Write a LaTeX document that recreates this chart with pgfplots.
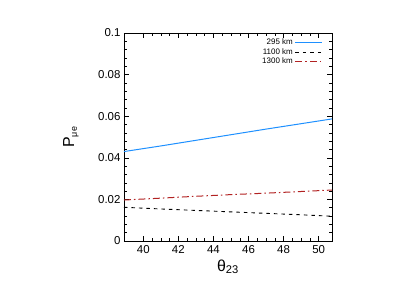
\documentclass[border=0pt]{standalone}
\usepackage{fontspec}
\setmainfont{Liberation Sans}
\usepackage{pgfplots}
\pgfplotsset{compat=1.18}
\definecolor{cblue}{RGB}{30,144,255}
\definecolor{cred}{RGB}{178,34,34}
\begin{document}
\begin{tikzpicture}
\path[use as bounding box] (-124bp,-49bp) rectangle (291bp,241bp);
\begin{axis}[
  at={(0,0)}, anchor=south west,
  width=208bp, height=208bp, scale only axis,
  xmin=38.9, xmax=50.76, ymin=0, ymax=0.1,
  xtick={40,42,44,46,48,50},
  ytick={0,0.02,0.04,0.06,0.08,0.1},
  yticklabels={0,0.02,0.04,0.06,0.08,0.1},
  minor x tick num=3, minor y tick num=4,
  tick align=inside, xtick pos=both, ytick pos=both,
  major tick length=5bp, minor tick length=3bp,
  every tick/.style={black, line width=0.5pt},
  axis line style={line width=0.8pt},
  /pgf/number format/assume math mode=true,
  tick label style={font=\fontsize{11.5}{13}\selectfont},
  xticklabel style={yshift=-1bp},
  scaled y ticks=false,
  xlabel={\fontsize{16}{18}\selectfont θ\textsubscript{23}},
  ylabel={\fontsize{16}{18}\selectfont P\textsubscript{\fontsize{9}{10}\selectfont μe}},
  xlabel style={at={(rel axis cs:0.5,0)}, anchor=north, yshift=-15bp},
  ylabel style={at={(rel axis cs:0,0.5)}, anchor=south, yshift=42bp},
  legend plot pos=right,
  legend cell align=right,
  legend style={at={(rel axis cs:1,1)}, anchor=north east, xshift=-8bp, yshift=-3bp,
    draw=none, fill=none, font=\fontsize{8}{9}\selectfont, row sep=-2pt, inner sep=1pt},
  legend image code/.code={\draw[#1] (0bp,0bp) -- (27bp,0bp);},
]
\addplot[cblue, line width=1bp] coordinates {
 (38.9,0.0430) (41,0.0457) (43,0.0484) (45,0.0511) (47,0.0538) (49,0.0564) (50.76,0.0587)};
\addlegendentry{295 km}
\addplot[black, line width=0.9bp, dash pattern=on 3.5bp off 4bp] coordinates {
 (38.9,0.0162) (41,0.0154) (43,0.0147) (45,0.0140) (47,0.0133) (49,0.0126) (50.76,0.0119)};
\addlegendentry{1100 km}
\addplot[cred, line width=1bp, dash pattern=on 7bp off 3bp on 1.5bp off 3bp] coordinates {
 (38.9,0.0197) (41,0.0206) (43,0.0215) (45,0.0223) (47,0.0230) (49,0.0238) (50.76,0.0245)};
\addlegendentry{1300 km}
\node[font=\fontsize{10}{12}\selectfont, anchor=base] at (rel axis cs:0.47,1) [yshift=14bp] {δ\textsubscript{CP}=-90, IH};
\end{axis}
\end{tikzpicture}
\end{document}
